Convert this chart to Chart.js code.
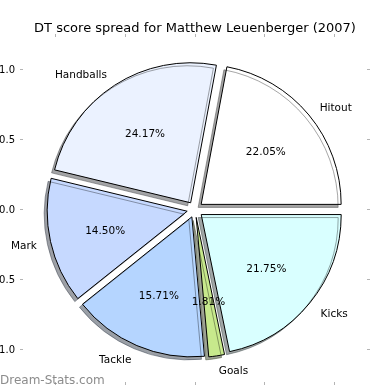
<!DOCTYPE html>
<html>
<head>
<meta charset="utf-8">
<script src="https://cdn.jsdelivr.net/npm/chart.js@4"></script>
<style>
    html, body { margin: 0; padding: 0; background: #fff; }
</style>
</head>
<body>
<canvas id="pie-chart" width="390" height="390"></canvas>
<script>
// DT points per category (percentages are worked out from these)
const categories = ['Hitout', 'Handballs', 'Mark', 'Tackle', 'Goals', 'Kicks'];
const scores = [73, 80, 48, 52, 6, 72];
const tick_values = [-1, -0.5, 0, 0.5, 1];
const x_limits = [-1.2286, 1.2286];
const y_limits = [-1.2286, 1.2357];

const colours = ['#ffffff', '#ebf2ff', '#c6d9ff', '#b5d5ff', '#c7e98c', '#d9ffff'];
const explode = 8;     // px, like matplotlib explode=0.05
const shadow_shift = 3;

Chart.defaults.font.family = '"DejaVu Sans", sans-serif';

// matplotlib goes counter clockwise from east, chart.js goes clockwise
const labels = categories.slice().reverse();
const values = scores.slice().reverse();
const fills = colours.slice().reverse();
const total = scores.reduce((a, b) => a + b, 0);

function shade(hex) {
    const r = parseInt(hex.slice(1, 3), 16) * 0.3;
    const g = parseInt(hex.slice(3, 5), 16) * 0.3;
    const b = parseInt(hex.slice(5, 7), 16) * 0.3;
    return `rgba(${r}, ${g}, ${b}, 0.5)`;
}

function fixed_size(size) {
    return scale => {
        if (scale.isHorizontal()) scale.height = size;
        else scale.width = size;
        // no extra room for labels hanging over the ends
        scale.paddingTop = 0;
        scale.paddingBottom = 0;
        scale.paddingLeft = 0;
        scale.paddingRight = 0;
    };
}

function set_ticks(scale) {
    scale.ticks = tick_values.map(v => ({ value: v }));
}

function axis(position, limits, show_labels, size, pad) {
    return {
        type: 'linear',
        axis: (position === 'top' || position === 'bottom') ? 'x' : 'y',
        position: position,
        min: limits[0],
        max: limits[1],
        afterBuildTicks: set_ticks,
        afterFit: fixed_size(size),
        grid: { drawOnChartArea: false, drawTicks: true, tickLength: 3, color: '#b4b4b4' },
        border: { display: false },
        ticks: {
            display: show_labels,
            autoSkip: false,
            maxRotation: 0,
            padding: pad,
            color: '#000',
            font: { size: 10 },
            callback: v => v.toFixed(1)
        }
    };
}

// draws every wedge pushed out along its middle angle, with a shadow
const explode_plugin = {
    id: 'explode',
    beforeDatasetDraw(chart, args) {
        const ctx = chart.ctx;
        args.meta.data.forEach((arc, i) => {
            const mid = (arc.startAngle + arc.endAngle) / 2;
            ctx.save();
            ctx.translate(Math.cos(mid) * explode, Math.sin(mid) * explode);
            ctx.shadowColor = shade(fills[i]);
            ctx.shadowOffsetX = -shadow_shift;
            ctx.shadowOffsetY = shadow_shift;
            ctx.shadowBlur = 0;
            arc.draw(ctx);
            ctx.restore();
        });
        return false;
    }
};

const label_plugin = {
    id: 'slice_labels',
    afterDatasetsDraw(chart) {
        const ctx = chart.ctx;
        const arcs = chart.getDatasetMeta(0).data;
        ctx.save();
        ctx.fillStyle = '#000';
        ctx.font = '10.5px "DejaVu Sans"';
        ctx.textBaseline = 'middle';
        arcs.forEach((arc, i) => {
            const mid = (arc.startAngle + arc.endAngle) / 2;
            const cos = Math.cos(mid), sin = Math.sin(mid);
            const cx = arc.x + cos * explode;
            const cy = arc.y + sin * explode + 2;   // matplotlib centres on the glyph box
            const r = arc.outerRadius;

            ctx.textAlign = cos > 0 ? 'left' : 'right';
            ctx.fillText(labels[i], cx + cos * r * 1.1, cy + sin * r * 1.1);

            ctx.textAlign = 'center';
            const pct = (values[i] / total * 100).toFixed(2) + '%';
            ctx.fillText(pct, cx + cos * r * 0.6, cy + sin * r * 0.6);
        });
        ctx.restore();
    },
    afterDraw(chart) {
        const ctx = chart.ctx;
        ctx.save();
        ctx.fillStyle = '#8c8c8c';
        ctx.font = '12px "DejaVu Sans"';
        ctx.textAlign = 'left';
        ctx.textBaseline = 'alphabetic';
        ctx.fillText('Dream-Stats.com', 0, 384);
        ctx.restore();
    }
};

const ctx = document.getElementById('pie-chart').getContext('2d');

new Chart(ctx, {
    type: 'pie',
    data: {
        labels: labels,
        datasets: [{
            data: values,
            backgroundColor: fills,
            borderColor: '#000',
            borderWidth: 1
        }]
    },
    options: {
        responsive: false,
        animation: false,
        events: [],
        rotation: 90,
        radius: 140,
        layout: { padding: 0 },
        scales: {
            x: axis('bottom', x_limits, true, 8, 4),
            x2: axis('top', x_limits, false, 1, 2),
            y: axis('left', y_limits, true, 23, 5),
            y2: axis('right', y_limits, false, 23, 5)
        },
        plugins: {
            legend: { display: false },
            tooltip: { enabled: false },
            title: {
                display: true,
                text: 'DT score spread for Matthew Leuenberger (2007)',
                color: '#000',
                font: { size: 13, weight: 'normal' },
                padding: { top: 20.4, bottom: 0 }
            }
        }
    },
    plugins: [explode_plugin, label_plugin]
});
</script>
</body>
</html>
